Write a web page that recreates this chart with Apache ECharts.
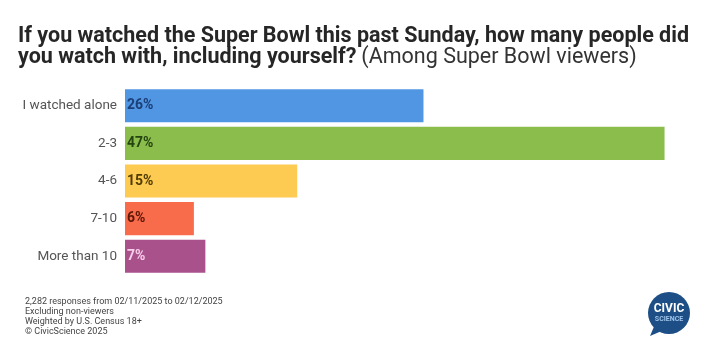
<!DOCTYPE html>
<html>
<head>
<meta charset="utf-8">
<script src="https://cdn.jsdelivr.net/npm/echarts@6/dist/echarts.min.js"></script>
<style>
  html, body { margin: 0; padding: 0; background: #fff; }
  #main { width: 720px; height: 352px; }
</style>
</head>
<body>
<div id="main"></div>
<script>
// data
var categories = ['I watched alone', '2-3', '4-6', '7-10', 'More than 10'];
var values = [26, 47, 15, 6, 7];
var barColors = ['#5096e2', '#8bbd4d', '#fdca52', '#f86c4c', '#a9518b'];
var labelColors = ['#1b3f78', '#254510', '#4f3c00', '#5e1606', '#f6cdea'];
var notes = [
    '2,282 responses from 02/11/2025 to 02/12/2025',
    'Excluding non-viewers',
    'Weighted by U.S. Census 18+',
    '\u00a9 CivicScience 2025'
];

var myChart = echarts.init(document.getElementById('main'));

var option = {
    backgroundColor: '#fff',
    animation: false,
    title: {
        left: 18,
        top: 26,
        padding: 0,
        text: '{b|If you watched the Super Bowl this past Sunday, how many people did}\n{b|you watch with, including yourself?} {r|(Among Super Bowl viewers)}',
        textStyle: {
            rich: {
                b: { fontFamily: 'Roboto', fontWeight: 'bold', fontSize: 21.5, color: '#262626', lineHeight: 21 },
                r: { fontFamily: 'Roboto', fontWeight: 'normal', fontSize: 21.5, color: '#333', lineHeight: 21 }
            }
        }
    },
    grid: { left: 125, right: 21, top: 87, height: 188, containLabel: false },
    xAxis: {
        type: 'value',
        min: 0,
        max: 50,
        show: false
    },
    yAxis: {
        type: 'category',
        data: categories,
        inverse: true,
        axisLine: { show: false },
        axisTick: { show: false },
        axisLabel: {
            margin: 8,
            color: '#555',
            fontFamily: 'Roboto',
            fontSize: 13.5
        }
    },
    series: [{
        type: 'bar',
        barCategoryGap: '12%',
        data: values.map(function (v, i) {
            return {
                value: v,
                itemStyle: { color: barColors[i] },
                label: { color: labelColors[i] }
            };
        }),
        label: {
            show: true,
            position: 'insideLeft',
            distance: 2,
            formatter: '{c}%',
            fontFamily: 'Roboto',
            fontWeight: 'bold',
            fontSize: 14
        }
    }],
    graphic: [
        {
            type: 'text',
            left: 25,
            top: 297,
            style: {
                text: notes.join('\n'),
                font: '9px Roboto',
                lineHeight: 9.8,
                fill: '#444'
            }
        },
        // logo: speech bubble
        {
            type: 'group',
            left: 648,
            top: 292,
            children: [
                { type: 'polygon', shape: { points: [[4, 44], [10, 30], [18, 38]] }, style: { fill: '#1d4f86' } },
                { type: 'circle', shape: { cx: 23, cy: 21, r: 21 }, style: { fill: '#1d4f86' } },
                { type: 'text', style: { x: 23, y: 17, text: 'CIVIC', font: 'bold 12px Roboto', fill: '#fff', align: 'center', verticalAlign: 'middle' } },
                { type: 'text', style: { x: 23, y: 27, text: 'SCIENCE', font: 'bold 7px Roboto', fill: '#9fc3ea', align: 'center', verticalAlign: 'middle' } }
            ]
        }
    ]
};

myChart.setOption(option);
window.onresize = myChart.resize;
</script>
</body>
</html>
